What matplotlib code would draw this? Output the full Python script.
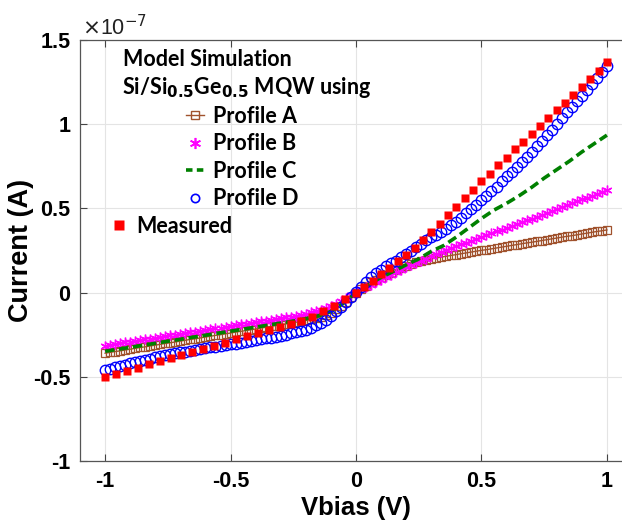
import numpy as np
import matplotlib
matplotlib.use("Agg")
import matplotlib.pyplot as plt
from matplotlib.lines import Line2D
from matplotlib.font_manager import FontProperties

plt.rcParams["axes.unicode_minus"] = False

# ---- data (current in units of 1e-7 A) ----
v_sim = np.linspace(-1.0, 1.0, 101)   # simulation bias grid, 0.02 V step

profile_a = [
    -0.360, -0.355, -0.350, -0.346, -0.341, -0.336, -0.331, -0.326, -0.322, -0.317,
    -0.312, -0.307, -0.302, -0.298, -0.293, -0.288, -0.283, -0.278, -0.274, -0.269,
    -0.264, -0.259, -0.254, -0.250, -0.245, -0.240, -0.235, -0.230, -0.226, -0.221,
    -0.216, -0.211, -0.206, -0.201, -0.196, -0.191, -0.186, -0.181, -0.176, -0.170,
    -0.165, -0.159, -0.152, -0.144, -0.133, -0.119, -0.100, -0.078, -0.053, -0.027,
    0.000, 0.022, 0.042, 0.060, 0.076, 0.090, 0.104, 0.118, 0.132, 0.146,
    0.160, 0.172, 0.182, 0.189, 0.195, 0.200, 0.206, 0.211, 0.216, 0.221,
    0.226, 0.231, 0.236, 0.241, 0.246, 0.251, 0.255, 0.260, 0.265, 0.270,
    0.275, 0.280, 0.285, 0.290, 0.295, 0.299, 0.304, 0.309, 0.314, 0.319,
    0.324, 0.329, 0.334, 0.338, 0.343, 0.348, 0.353, 0.358, 0.363, 0.367,
    0.372,
]

profile_b = [
    -0.315, -0.310, -0.306, -0.301, -0.296, -0.292, -0.287, -0.282, -0.278, -0.273,
    -0.268, -0.264, -0.259, -0.254, -0.250, -0.245, -0.240, -0.236, -0.231, -0.226,
    -0.222, -0.217, -0.212, -0.208, -0.203, -0.198, -0.194, -0.189, -0.184, -0.180,
    -0.175, -0.170, -0.166, -0.161, -0.156, -0.152, -0.147, -0.142, -0.137, -0.131,
    -0.125, -0.118, -0.110, -0.101, -0.091, -0.080, -0.066, -0.050, -0.033, -0.015,
    0.005, 0.020, 0.034, 0.048, 0.062, 0.075, 0.090, 0.105, 0.120, 0.135,
    0.150, 0.163, 0.176, 0.189, 0.202, 0.215, 0.227, 0.239, 0.251, 0.263,
    0.275, 0.286, 0.297, 0.308, 0.319, 0.330, 0.341, 0.352, 0.363, 0.374,
    0.385, 0.396, 0.407, 0.418, 0.429, 0.440, 0.451, 0.463, 0.474, 0.486,
    0.497, 0.508, 0.519, 0.530, 0.542, 0.553, 0.564, 0.576, 0.587, 0.599,
    0.610,
]

profile_d = [
    -0.460, -0.452, -0.444, -0.436, -0.428, -0.420, -0.413, -0.406, -0.399, -0.392,
    -0.385, -0.379, -0.373, -0.367, -0.361, -0.355, -0.350, -0.345, -0.340, -0.335,
    -0.330, -0.326, -0.321, -0.317, -0.312, -0.308, -0.303, -0.298, -0.293, -0.288,
    -0.283, -0.278, -0.272, -0.267, -0.261, -0.255, -0.249, -0.242, -0.235, -0.228,
    -0.220, -0.208, -0.195, -0.178, -0.160, -0.136, -0.110, -0.083, -0.055, -0.025,
    0.005, 0.035, 0.065, 0.090, 0.115, 0.135, 0.155, 0.173, 0.190, 0.210,
    0.230, 0.250, 0.270, 0.290, 0.310, 0.328, 0.345, 0.362, 0.380, 0.400,
    0.420, 0.445, 0.470, 0.495, 0.520, 0.547, 0.575, 0.602, 0.630, 0.660,
    0.690, 0.717, 0.745, 0.775, 0.805, 0.837, 0.870, 0.902, 0.935, 0.967,
    1.000, 1.035, 1.070, 1.102, 1.135, 1.170, 1.205, 1.240, 1.275, 1.310,
    1.345,
]

v_c = np.linspace(-1.0, 1.0, 41)      # 0.05 V step
profile_c = [
    -0.348, -0.337, -0.325, -0.313, -0.301, -0.289, -0.277, -0.265, -0.253, -0.241,
    -0.229, -0.217, -0.205, -0.193, -0.181, -0.169, -0.155, -0.138, -0.112, -0.063,
    0.000, 0.048, 0.090, 0.127, 0.165, 0.200, 0.245, 0.280, 0.330, 0.385,
    0.440, 0.490, 0.530, 0.575, 0.625, 0.680, 0.730, 0.780, 0.835, 0.885,
    0.935,
]

v_meas = np.concatenate([np.linspace(-1.0, 0.0, 24), np.linspace(1 / 30, 1.0, 30)])
measured = [
    -0.500, -0.482, -0.463, -0.445, -0.426, -0.408, -0.389, -0.371, -0.352, -0.334,
    -0.315, -0.297, -0.278, -0.260, -0.241, -0.222, -0.204, -0.186, -0.166, -0.143,
    -0.112, -0.078, -0.040, 0.000,
    0.032, 0.068, 0.108, 0.146, 0.185, 0.224, 0.265, 0.312, 0.360, 0.410,
    0.460, 0.510, 0.560, 0.610, 0.660, 0.707, 0.755, 0.802, 0.850, 0.897,
    0.943, 0.990, 1.035, 1.082, 1.128, 1.175, 1.222, 1.270, 1.318, 1.370,
]

x_ticks = [-1, -0.5, 0, 0.5, 1]
x_tick_labels = ["-1", "-0.5", "0", "0.5", "1"]
y_ticks = [-1, -0.5, 0, 0.5, 1, 1.5]
y_tick_labels = ["-1", "-0.5", "0", "0.5", "1", "1.5"]

# ---- styles ----
BROWN = "#a0522d"
MAGENTA = "#ff00ff"
GREEN = "#008000"
BLUE = "#0000ff"
RED = "#ff0000"
ASTERISK = (6, 2, 0)

W, H = 622, 525
fig = plt.figure(figsize=(W / 100, H / 100), dpi=100)
ax = fig.add_axes([80 / W, 64 / H, 552 / W, 421 / H])

ax.plot(v_sim, profile_a, color=BROWN, lw=1.0, marker="s", ms=5.5,
        mfc="none", mec=BROWN, mew=0.9, zorder=3)
ax.plot(v_sim, profile_b, color=MAGENTA, lw=0, marker=ASTERISK, ms=7,
        mew=1.0, zorder=4)
ax.plot(v_c, profile_c, color=GREEN, lw=2.6, dashes=(2.6, 1.3), zorder=5)
ax.plot(v_sim, profile_d, color=BLUE, lw=0, marker="o", ms=7.5,
        mfc="none", mec=BLUE, mew=1.0, zorder=6)
ax.plot(v_meas, measured, color=RED, lw=0, marker="s", ms=6, mec="none",
        zorder=7)

ax.set_xlim(-1.1, 1.1)
ax.set_ylim(-1.0, 1.5)
ax.set_xticks(x_ticks)
ax.set_xticklabels(x_tick_labels)
ax.set_yticks(y_ticks)
ax.set_yticklabels(y_tick_labels)

tick_fp = FontProperties(family="Liberation Sans", weight="bold", size=15.5)
for lab in ax.get_xticklabels() + ax.get_yticklabels():
    lab.set_fontproperties(tick_fp)

ax.tick_params(direction="in", length=5, width=0.8, color="#444444",
               top=True, right=True, pad=7)
ax.grid(True, color="#e4e4e4", lw=0.8, zorder=0)
ax.set_axisbelow(True)
for sp in ax.spines.values():
    sp.set_color("#555555")
    sp.set_linewidth(0.9)

ax.set_xlabel("Vbias (V)", fontfamily="Liberation Sans", fontweight="bold",
              fontsize=18.5, labelpad=3)
ax.set_ylabel("Current (A)", fontfamily="Liberation Sans", fontweight="bold",
              fontsize=19.5, labelpad=-1)

fig.text(82 / W, 1 - 28 / H, r"$\times$10$^{-7}$", fontfamily="Liberation Sans",
         fontsize=15.5, va="center", ha="left", color="#222222")

# ---- legend ----
leg_font = dict(family="Lato", weight="bold", size=15.5)
fig.text(123 / W, 1 - 59 / H, "Model Simulation", va="center", ha="left", **leg_font)
fig.text(122 / W, 1 - 87 / H, r"Si/Si$_{\mathbf{0.5}}$Ge$_{\mathbf{0.5}}$ MQW using",
         va="center", ha="left", **leg_font)

handles = [
    Line2D([], [], color=BROWN, lw=1.0, marker="s", ms=6, mfc="none", mec=BROWN, mew=1.0),
    Line2D([], [], color=MAGENTA, lw=0, marker=ASTERISK, ms=8, mew=1.2),
    Line2D([], [], color=GREEN, lw=2.6, dashes=(1.8, 1.2)),
    Line2D([], [], color=BLUE, lw=0, marker="o", ms=6, mfc="none", mec=BLUE, mew=1.2),
]
labels = ["Profile A", "Profile B", "Profile C", "Profile D"]
leg = ax.legend(handles, labels, loc="upper left", frameon=False,
                bbox_to_anchor=(186 / W, 1 - 106 / H), bbox_transform=fig.transFigure,
                prop=leg_font, handlelength=0.85, handletextpad=0.4,
                labelspacing=0.3, borderpad=0, borderaxespad=0)
ax.add_artist(leg)

ax.legend([Line2D([], [], color=RED, lw=0, marker="s", ms=7, mec="none")], ["Measured"],
          loc="upper left", frameon=False,
          bbox_to_anchor=(110 / W, 1 - 216 / H), bbox_transform=fig.transFigure,
          prop=leg_font, handlelength=0.85, handletextpad=0.35,
          borderpad=0, borderaxespad=0)

fig.savefig("out.png", dpi=100)
